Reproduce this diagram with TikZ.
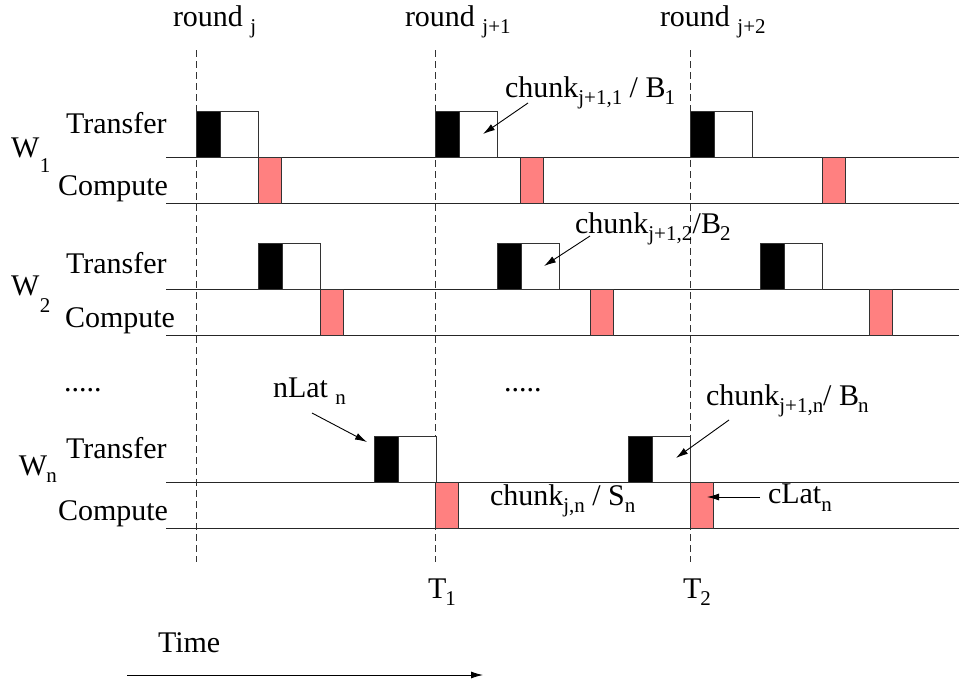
\documentclass[tikz,border=0pt]{standalone}
\usepackage{fontspec}
\setmainfont{Liberation Serif}
\usetikzlibrary{arrows.meta}
\definecolor{salmonfill}{RGB}{255,128,128}
\newcommand{\lo}[2][7pt]{\raisebox{-#1}{\fontsize{21}{24}\selectfont #2}}
\newcommand{\tbox}[2]{%
  \draw[blk] (#1,#2) rectangle ++(24,46);
  \draw[wht] (#1+24,#2) rectangle ++(38,46);}
\newcommand{\cbox}[2]{%
  \draw[cmp] (#1,#2) rectangle ++(23.5,46);}
\begin{document}
\begin{tikzpicture}[x=1pt,y=-1pt,font=\fontsize{30}{36}\selectfont,
  lbl/.style={anchor=base west,inner sep=0pt,outer sep=0pt},
  axis/.style={line width=1pt,draw=black!85},
  guide/.style={line width=0.9pt,draw=black!80,dash pattern=on 7pt off 4pt},
  blk/.style={fill=black,draw=black!80,line width=0.8pt},
  wht/.style={fill=white,draw=black!80,line width=0.8pt},
  cmp/.style={fill=salmonfill,draw=black!80,line width=0.8pt},
  pointer/.style={line width=0.9pt,-{Latex[length=12pt,width=7pt]}}]
\path[use as bounding box] (0,0) rectangle (959,688);

% dashed round guides
\foreach \gx in {196,435,690}{\draw[guide] (\gx,50) -- (\gx,562);}

% row baselines
\foreach \ly in {157,203,289,335,482,528}{\draw[axis] (166,\ly) -- (959,\ly);}

% W1
\tbox{196}{111}\tbox{435}{111}\tbox{690}{111}
\cbox{258}{157}\cbox{520}{157}\cbox{822}{157}
% W2
\tbox{258}{243}\tbox{497}{243}\tbox{760}{243}
\cbox{320}{289}\cbox{590}{289}\cbox{869}{289}
% Wn
\tbox{374}{436}\tbox{628}{436}
\cbox{435}{482}\cbox{690}{482}

% labels
\node[lbl] (r0) at (173,26) {round \lo{j}};
\node[lbl] (r1) at (405,26) {round \lo{j+1}};
\node[lbl] (r2) at (660,26) {round \lo{j+2}};

\node[lbl] (w1) at (11,157) {W\kern0.5pt\lo[15pt]{1}};
\node[lbl] (w2) at (11,295) {W\kern0.5pt\lo[17pt]{2}};
\node[lbl] (wn) at (19,475) {W\kern-1pt\lo[7pt]{n}};

\node[lbl] (t1) at (66,133) {Transfer};
\node[lbl] (c1) at (58,195) {Compute};
\node[lbl] (t2) at (66,273) {Transfer};
\node[lbl] (c2) at (65,327) {Compute};
\node[lbl] (tn) at (66,458) {Transfer};
\node[lbl] (cn) at (58,520) {Compute};

\node[lbl] (d1) at (64,391) {.....};
\node[lbl] (d2) at (504,391) {.....};

\node[lbl] (nlat) at (273,397) {nLat \lo{n}};
\node[lbl] (ch1) at (505,97) {chunk\lo{j+1,1} / B\kern-1pt\lo{1}};
\node[lbl] (ch2) at (575,233) {chunk\lo{j+1,2}\kern0.5pt/B\kern-1pt\lo{2}};
\node[lbl] (chn) at (706,405) {chunk\lo{j+1,n}/ B\kern-1pt\lo{n}};
\node[lbl] (chs) at (490,505) {chunk\lo{j,n} / S\lo{n}};
\node[lbl] (clat) at (768,503) {cLat\lo[8pt]{n}};

\node[lbl] (T1) at (428,598) {T\kern-1pt\lo{1}};
\node[lbl] (T2) at (683,598) {T\kern-1pt\lo{2}};
\node[lbl] (time) at (158,652) {Time};

% pointer arrows
\coordinate (a1s) at (312,413); \coordinate (a1e) at (367,442);
\coordinate (a2s) at (528,103); \coordinate (a2e) at (483,134);
\coordinate (a3s) at (590,236); \coordinate (a3e) at (544,266);
\coordinate (a4s) at (729,420); \coordinate (a4e) at (676,458);
\coordinate (a5s) at (760,497); \coordinate (a5e) at (707,497);
\coordinate (ts) at (127,675); \coordinate (te) at (483,675);
\draw[pointer] (a1s) -- (a1e);
\draw[pointer] (a2s) -- (a2e);
\draw[pointer] (a3s) -- (a3e);
\draw[pointer] (a4s) -- (a4e);
\draw[pointer] (a5s) -- (a5e);
\draw[pointer] (ts) -- (te);
\end{tikzpicture}
\end{document}
